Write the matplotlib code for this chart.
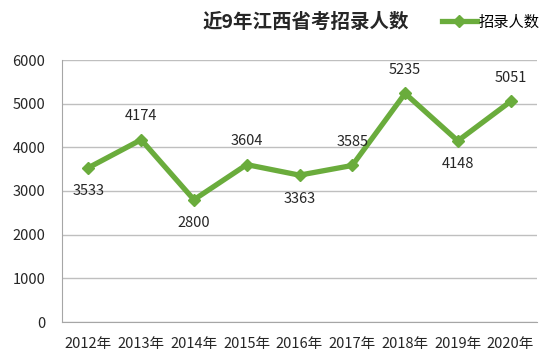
import matplotlib
matplotlib.use('Agg')
from matplotlib import pyplot as plt
import numpy as np

plt.rcParams['font.family'] = ['Noto Sans CJK SC', 'DejaVu Sans']

years = ['2012年', '2013年', '2014年', '2015年', '2016年', '2017年', '2018年', '2019年', '2020年']
counts = [3533, 4174, 2800, 3604, 3363, 3585, 5235, 4148, 5051]
# label above (1) or below (-1) the point
label_side = [-1, 1, -1, 1, -1, 1, 1, -1, 1]

green = '#6aac3c'

fig = plt.figure(figsize=(5.55, 3.63), dpi=100)
ax = fig.add_axes([62/555, 41/363, 475/555, 262/363])

x = np.arange(len(years))
ax.plot(x, counts, color=green, lw=3.8, marker='D', ms=6.5, label='招录人数',
        solid_joinstyle='miter')

for xi, v, s in zip(x, counts, label_side):
    ax.annotate(str(v), (xi, v), xytext=(0, 17 * s), textcoords='offset points',
                ha='center', va='center', fontsize=10.5, color='#262626')

ax.set_xlim(-0.5, len(years) - 0.5)
ax.set_ylim(0, 6000)
ax.set_yticks(np.arange(0, 6001, 1000))
ax.set_xticks(x)
ax.set_xticklabels(years)
ax.tick_params(length=0, labelsize=10.5, colors='#262626', pad=11)
ax.tick_params(axis='y', pad=12)
ax.grid(axis='y', color='#bfbfbf', lw=1)
ax.set_axisbelow(True)
for sp in ['top', 'right']:
    ax.spines[sp].set_visible(False)
for sp in ['left', 'bottom']:
    ax.spines[sp].set_color('#a6a6a6')

fig.text(306/555, 1 - 22/363, '近9年江西省考招录人数', ha='center', va='center',
         fontsize=14, fontweight='bold', color='#262626')
fig.legend(loc='center left', bbox_to_anchor=(434/555, 1 - 22/363), frameon=False,
           fontsize=11, handlelength=2.3, handletextpad=0.1, borderpad=0)

fig.savefig('out.png', dpi=100)
